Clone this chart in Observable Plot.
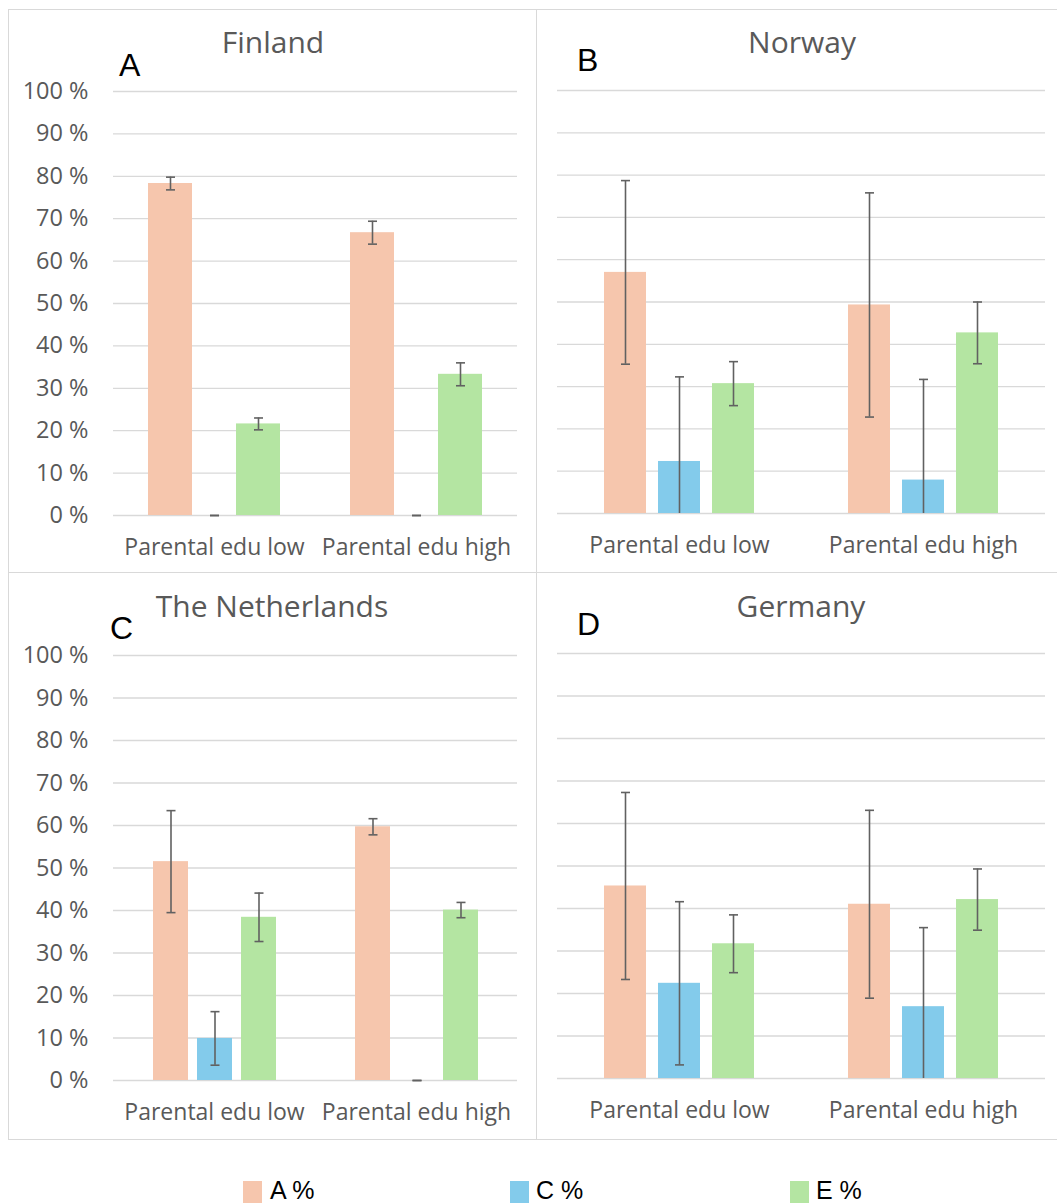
<!DOCTYPE html>
<html>
<head>
<meta charset="utf-8">
<script src="https://cdn.jsdelivr.net/npm/d3@7"></script>
<script src="https://cdn.jsdelivr.net/npm/@observablehq/plot@0.6"></script>
<style>
  html, body { margin: 0; padding: 0; background: #fff; }
  #chart { position: relative; width: 1057px; height: 1203px; overflow: hidden; font-family: "Open Sans", sans-serif; }
  .rule { position: absolute; background: #d9d9d9; }
  .outline { position: absolute; border: 1.3px solid #d9d9d9; box-sizing: border-box; }
  .panel { position: absolute; }
  .panel svg { display: block; overflow: visible; }
  .title { position: absolute; font-size: 30px; line-height: 1; color: #595959; transform: translateX(-50%); white-space: nowrap; }
  .letter { position: absolute; font-family: "Liberation Sans", Arial, sans-serif; font-size: 32px; line-height: 1; color: #000; }
  .legend-item { position: absolute; top: 1178px; height: 30px; }
  .legend-swatch { position: absolute; top: 3px; width: 19px; height: 24px; }
  .legend-label { position: absolute; top: 0; font-family: "Liberation Sans", Arial, sans-serif; font-size: 25px; line-height: 1; color: #000; white-space: nowrap; }
</style>
</head>
<body>
<div id="chart"></div>
<script>
// Categories and series
const groups = ["Parental edu low", "Parental edu high"];
const series = ["A %", "C %", "E %"];
const seriesColors = ["#F6C6AD", "#83CBEB", "#B4E5A2"];
const yTicks = [0, 10, 20, 30, 40, 50, 60, 70, 80, 90, 100];

// Estimates (%) in order: low A, low C, low E, high A, high C, high E
const finlandValues = [78.3, 0, 21.6, 66.7, 0, 33.3];
const finlandErrors = [1.5, 0, 1.4, 2.7, 0, 2.7];

const norwayValues = [57.0, 12.3, 30.7, 49.3, 7.9, 42.7];
const norwayErrors = [21.7, 20.0, 5.2, 26.5, 23.8, 7.3];

const netherlandsValues = [51.5, 9.9, 38.4, 59.7, 0, 40.1];
const netherlandsErrors = [12.0, 6.3, 5.7, 1.9, 0, 1.8];

const germanyValues = [45.3, 22.4, 31.7, 41.0, 16.9, 42.1];
const germanyErrors = [22.0, 19.2, 6.8, 22.1, 18.6, 7.2];

function rows(values, errors) {
  return values.map((v, i) => ({
    group: groups[Math.floor(i / 3)],
    series: series[i % 3],
    value: v,
    error: errors[i]
  }));
}

// Panel layout
const panels = [
  { title: "Finland", letter: "A", values: finlandValues, errors: finlandErrors,
    left: 8, top: 9, width: 529, height: 564, m: [82, 20, 58, 104], showY: true,
    pi: 0.01, po: 0.76, titleX: 273, titleTop: 27, letterX: 119, letterTop: 49 },
  { title: "Norway", letter: "B", values: norwayValues, errors: norwayErrors,
    left: 537, top: 9, width: 520, height: 564, m: [81, 12, 60, 20], showY: false,
    pi: 0.222, po: 0.869, titleX: 802, titleTop: 27, letterX: 577, letterTop: 44 },
  { title: "The Netherlands", letter: "C", values: netherlandsValues, errors: netherlandsErrors,
    left: 8, top: 573, width: 529, height: 566, m: [82, 20, 59, 104], showY: true,
    pi: 0.21, po: 0.853, titleX: 272, titleTop: 591, letterX: 110, letterTop: 612 },
  { title: "Germany", letter: "D", values: germanyValues, errors: germanyErrors,
    left: 537, top: 573, width: 520, height: 566, m: [80, 12, 61, 20], showY: false,
    pi: 0.222, po: 0.869, titleX: 801, titleTop: 591, letterX: 577, letterTop: 608 }
];

// Error-bar cap: short horizontal stroke
const capSymbol = { draw(ctx) { ctx.moveTo(-4.5, 0); ctx.lineTo(4.5, 0); } };

const root = document.getElementById("chart");

// Outline and dividers
const outline = document.createElement("div");
outline.className = "outline";
Object.assign(outline.style, { left: "8px", top: "9px", width: "1080px", height: "1131px" });
root.appendChild(outline);
const vRule = document.createElement("div");
vRule.className = "rule";
Object.assign(vRule.style, { left: "536px", top: "9px", width: "1.3px", height: "1131px" });
root.appendChild(vRule);
const hRule = document.createElement("div");
hRule.className = "rule";
Object.assign(hRule.style, { left: "8px", top: "572px", width: "1080px", height: "1.3px" });
root.appendChild(hRule);

for (const p of panels) {
  const data = rows(p.values, p.errors);
  const lower = d => Math.max(0, d.value - d.error);
  const upper = d => d.value + d.error;
  const errColor = "#616161";

  const chart = Plot.plot({
    width: p.width,
    height: p.height,
    marginTop: p.m[0],
    marginRight: p.m[1],
    marginBottom: p.m[2],
    marginLeft: p.m[3],
    style: { fontFamily: "Open Sans", background: "transparent" },
    fx: { domain: groups, padding: 0 },
    x: { domain: series, paddingInner: p.pi, paddingOuter: p.po, axis: null },
    y: p.showY ? { domain: [0, 100] } : { domain: [0, 100], axis: null },
    color: { domain: series, range: seriesColors },
    marks: [
      Plot.gridY(yTicks, { stroke: "#d9d9d9", strokeOpacity: 1, strokeWidth: 1.3 }),
      p.showY
        ? Plot.axisY(yTicks, { tickSize: 0, tickPadding: 25, tickFormat: d => `${d} %`,
            fontSize: 23.5, color: "#595959", label: null })
        : null,
      Plot.axisFx({ anchor: "bottom", tickSize: 0, tickPadding: 23, fontSize: 23,
        color: "#595959", label: null }),
      Plot.barY(data, { fx: "group", x: "series", y: "value", fill: "series" }),
      Plot.ruleX(data, { fx: "group", x: "series", y1: lower, y2: upper,
        stroke: errColor, strokeWidth: 1.6 }),
      Plot.dot(data, { fx: "group", x: "series", y: upper, symbol: capSymbol,
        fill: "none", stroke: errColor, strokeWidth: 1.6 }),
      Plot.dot(data.filter(d => d.value - d.error >= 0), { fx: "group", x: "series", y: lower,
        symbol: capSymbol, fill: "none", stroke: errColor, strokeWidth: 1.6 })
    ]
  });

  const holder = document.createElement("div");
  holder.className = "panel";
  holder.style.left = p.left + "px";
  holder.style.top = p.top + "px";
  holder.appendChild(chart);
  root.appendChild(holder);

  const title = document.createElement("div");
  title.className = "title";
  title.textContent = p.title;
  title.style.left = p.titleX + "px";
  title.style.top = p.titleTop + "px";
  root.appendChild(title);

  const letter = document.createElement("div");
  letter.className = "letter";
  letter.textContent = p.letter;
  letter.style.left = p.letterX + "px";
  letter.style.top = p.letterTop + "px";
  root.appendChild(letter);
}

// Legend
const legendX = [243, 510, 790];
series.forEach((s, i) => {
  const item = document.createElement("div");
  item.className = "legend-item";
  item.style.left = legendX[i] + "px";
  const sw = document.createElement("div");
  sw.className = "legend-swatch";
  sw.style.left = "0px";
  sw.style.background = seriesColors[i];
  const lab = document.createElement("div");
  lab.className = "legend-label";
  lab.style.left = (i === 0 ? 27 : 26) + "px";
  lab.textContent = s;
  item.appendChild(sw);
  item.appendChild(lab);
  root.appendChild(item);
});
</script>
</body>
</html>
